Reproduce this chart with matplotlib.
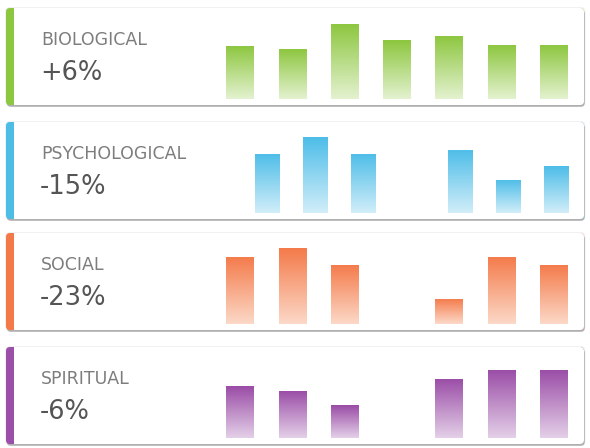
import numpy as np
import matplotlib
matplotlib.use("Agg")
import matplotlib.pyplot as plt
from matplotlib.patches import FancyBboxPatch, Rectangle
from matplotlib.colors import LinearSegmentedColormap

# ---- data ----
categories = ["BIOLOGICAL", "PSYCHOLOGICAL", "SOCIAL", "SPIRITUAL"]
changes = ["+6%", "-15%", "-23%", "-6%"]
biological = [71, 67, 100, 78, 84, 72, 72]
psychological = [79, 101, 79, np.nan, 84, 44, 62]
social = [90, 101, 79, np.nan, 34, 90, 79]
spiritual = [69, 63, 44, np.nan, 79, 91, 91]
series = [biological, psychological, social, spiritual]

# ---- style ----
top_colors = ["#8cc63e", "#4dbde8", "#f47a4a", "#9a4ca6"]
bottom_colors = ["#e4f2d0", "#d2eef9", "#fcd9c8", "#e4d0e8"]
border_colors = ["#8dc63f", "#4dbde6", "#f37a48", "#9b4fa8"]

W, H = 590, 448
fig = plt.figure(figsize=(W / 100, H / 100), dpi=100)
fig.patch.set_facecolor("white")

bg = fig.add_axes([0, 0, 1, 1])
bg.set_xlim(0, W)
bg.set_ylim(H, 0)
bg.axis("off")

card_tops = [8, 122, 233, 347]
card_h = 97
card_x0, card_x1 = 6, 584
chart_left = [214, 243, 214, 214]
bar_widths = [0.53, 0.5, 0.53, 0.53]

for k, top in enumerate(card_tops):
    # shadow
    bg.add_patch(FancyBboxPatch((card_x0 + 0.8, top + 1.8), card_x1 - card_x0, card_h,
                                boxstyle="round,pad=0,rounding_size=4",
                                fc="#b0b0b0", ec="none", zorder=1))
    bg.add_patch(FancyBboxPatch((card_x0 - 1, top - 1), card_x1 - card_x0 + 2.5, card_h + 2,
                                boxstyle="round,pad=0,rounding_size=5",
                                fc="#f1f1f1", ec="none", zorder=0.5))
    # colored card
    bg.add_patch(FancyBboxPatch((card_x0, top), card_x1 - card_x0, card_h,
                                boxstyle="round,pad=0,rounding_size=4",
                                fc=border_colors[k], ec="none", zorder=2))
    # white card body
    bg.add_patch(FancyBboxPatch((card_x0 + 8, top), card_x1 - card_x0 - 8, card_h,
                                boxstyle="round,pad=0,rounding_size=4",
                                fc="white", ec="none", zorder=3))
    bg.add_patch(Rectangle((card_x0 + 8, top), 20, card_h, fc="white", ec="none", zorder=3))

    # texts
    bg.text(41, top + 37, categories[k], fontsize=12.5, color="#7d7d7d",
            family="DejaVu Sans", va="baseline", ha="left", zorder=5)
    bg.text(40, top + 72, changes[k], fontsize=18.5, color="#555555",
            family="DejaVu Sans", va="baseline", ha="left", zorder=5)

    # bars
    x0 = chart_left[k]
    x1 = 580
    ybot = top + 91
    ax = fig.add_axes([x0 / W, 1 - ybot / H, (x1 - x0) / W, 75 / H])
    ax.set_facecolor("none")
    ax.axis("off")
    vals = series[k]
    xs = np.arange(len(vals))
    cmap = LinearSegmentedColormap.from_list("g", [bottom_colors[k], top_colors[k]])
    grad = np.linspace(0, 1, 256).reshape(-1, 1)
    bars = ax.bar(xs, np.nan_to_num(vals), width=bar_widths[k], color="none", edgecolor="none")
    for b, v in zip(bars, vals):
        if np.isnan(v):
            continue
        bx, bw, bh = b.get_x(), b.get_width(), b.get_height()
        im = ax.imshow(grad, extent=[bx, bx + bw, 0, bh], origin="lower",
                       aspect="auto", cmap=cmap, zorder=2)
        im.set_clip_path(b)
    ax.set_xlim(-0.5, len(vals) - 0.5)
    ax.set_ylim(0, 100)

fig.savefig("out.png", dpi=100, facecolor="white")
